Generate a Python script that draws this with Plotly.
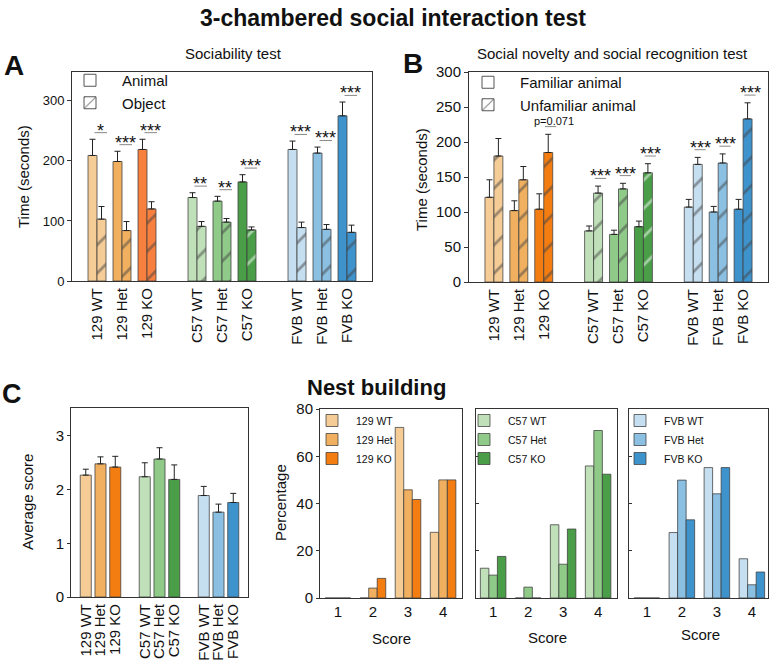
import plotly.graph_objects as go

W, H = 772, 662
FONT = "Arial, Liberation Sans, Helvetica, sans-serif"

# ---------------- data ----------------
genotypes = ["129 WT", "129 Het", "129 KO", "C57 WT", "C57 Het", "C57 KO", "FVB WT", "FVB Het", "FVB KO"]
strain_of = [0, 0, 0, 1, 1, 1, 2, 2, 2]
member_of = [0, 1, 2, 0, 1, 2, 0, 1, 2]

colors_A = ["#f5cc96", "#f0b060", "#f8803f", "#bfe0b8", "#8fca88", "#4b9e48", "#c6dff0", "#8bc0e2", "#3f93cc"]
colors = ["#f5cc96", "#f0b060", "#f47d12", "#bfe0b8", "#8fca88", "#4b9e48", "#c6dff0", "#8bc0e2", "#3f93cc"]

# A: Sociability test (seconds)
animal_mean = [209, 199, 219, 139, 133, 165, 219, 213, 275]
animal_sem = [27, 17, 17, 8, 8, 12, 14, 10, 23]
object_mean = [103, 84, 120, 91, 98, 85, 89, 86, 81]
object_sem = [21, 15, 12, 8, 6, 5, 9, 8, 12]
sig_A = ["*", "***", "***", "**", "**", "***", "***", "***", "***"]

# B: Social novelty test (seconds)
familiar_mean = [121, 102, 104, 73, 68, 79, 107, 100, 104]
familiar_sem = [25, 14, 22, 7, 6, 8, 11, 8, 14]
unfamiliar_mean = [180, 146, 185, 127, 133, 156, 168, 170, 233]
unfamiliar_sem = [25, 19, 26, 10, 8, 13, 10, 13, 23]
sig_B = ["", "", "p=0.071", "***", "***", "***", "***", "***", "***"]

# C: Nest building
nest_mean = [2.27, 2.48, 2.42, 2.24, 2.57, 2.19, 1.89, 1.58, 1.76]
nest_sem = [0.11, 0.13, 0.20, 0.26, 0.21, 0.27, 0.17, 0.15, 0.17]

scores = [1, 2, 3, 4]
pct_129_wt = [0, 0, 72.2, 27.8]
pct_129_het = [0, 4.2, 45.8, 50.0]
pct_129_ko = [0, 8.3, 41.7, 50.0]
pct_c57_wt = [12.6, 0, 31.0, 55.9]
pct_c57_het = [9.7, 4.6, 14.3, 70.9]
pct_c57_ko = [17.6, 0, 29.2, 52.4]
pct_fvb_wt = [0, 27.7, 55.2, 16.6]
pct_fvb_het = [0, 49.9, 44.1, 5.6]
pct_fvb_ko = [0, 33.1, 55.2, 11.0]

# ---------------- helpers ----------------
pos = [s * 4 + m + 1 for s, m in zip(strain_of, member_of)]


def px(x):
    return x / W


def py(y):
    return 1 - y / H


EDGE = "rgba(60,60,60,0.75)"
AXC = "#333333"
BW = 0.36

fig = go.Figure()


def err(arr):
    return dict(type="data", array=arr, arrayminus=[0] * len(arr), symmetric=False,
                color="#222222", thickness=1, width=3)


hatch = dict(shape="/", fgcolor="#111111", size=20, solidity=0.14, fillmode="overlay")

# ----- Panel A -----
fig.add_trace(go.Bar(x=pos, y=animal_mean, offset=-BW, width=BW, error_y=err(animal_sem),
                     marker=dict(color=colors_A, line=dict(color=EDGE, width=1)),
                     showlegend=False, xaxis="x", yaxis="y"))
fig.add_trace(go.Bar(x=pos, y=object_mean, offset=0, width=BW, error_y=err(object_sem),
                     marker=dict(color=colors_A, line=dict(color=EDGE, width=1), pattern=hatch),
                     showlegend=False, xaxis="x", yaxis="y"))
fig.add_trace(go.Bar(x=[None], y=[None], name="Animal", offset=0, width=BW,
                     marker=dict(color="white", line=dict(color="#555", width=1)),
                     legend="legend", xaxis="x", yaxis="y"))
fig.add_trace(go.Bar(x=[None], y=[None], name="Object", offset=0, width=BW,
                     marker=dict(color="white", line=dict(color="#555", width=1), pattern=hatch),
                     legend="legend", xaxis="x", yaxis="y"))

# ----- Panel B -----
fig.add_trace(go.Bar(x=pos, y=familiar_mean, offset=-BW, width=BW, error_y=err(familiar_sem),
                     marker=dict(color=colors, line=dict(color=EDGE, width=1)),
                     showlegend=False, xaxis="x2", yaxis="y2"))
fig.add_trace(go.Bar(x=pos, y=unfamiliar_mean, offset=0, width=BW, error_y=err(unfamiliar_sem),
                     marker=dict(color=colors, line=dict(color=EDGE, width=1), pattern=hatch),
                     showlegend=False, xaxis="x2", yaxis="y2"))
fig.add_trace(go.Bar(x=[None], y=[None], name="Familiar animal", offset=0, width=BW,
                     marker=dict(color="white", line=dict(color="#555", width=1)),
                     legend="legend2", xaxis="x2", yaxis="y2"))
fig.add_trace(go.Bar(x=[None], y=[None], name="Unfamiliar animal", offset=0, width=BW,
                     marker=dict(color="white", line=dict(color="#555", width=1), pattern=hatch),
                     legend="legend2", xaxis="x2", yaxis="y2"))

# ----- Panel C left -----
fig.add_trace(go.Bar(x=pos, y=nest_mean, width=0.75, error_y=err(nest_sem),
                     marker=dict(color=colors, line=dict(color=EDGE, width=1)),
                     showlegend=False, xaxis="x3", yaxis="y3"))

# ----- Panel C distributions -----
dist_sets = [
    (["129 WT", "129 Het", "129 KO"], [pct_129_wt, pct_129_het, pct_129_ko], colors[0:3], "x4", "y4", "legend3"),
    (["C57 WT", "C57 Het", "C57 KO"], [pct_c57_wt, pct_c57_het, pct_c57_ko], colors[3:6], "x5", "y5", "legend4"),
    (["FVB WT", "FVB Het", "FVB KO"], [pct_fvb_wt, pct_fvb_het, pct_fvb_ko], colors[6:9], "x6", "y6", "legend5"),
]
for names, vals, cols, xa, ya, lg in dist_sets:
    for n, v, c in zip(names, vals, cols):
        fig.add_trace(go.Bar(x=scores, y=v, name=n,
                             marker=dict(color=c, line=dict(color=EDGE, width=1)),
                             legend=lg, xaxis=xa, yaxis=ya))

# ---------------- significance marks ----------------
shapes = []
annotations = []


def add_sig(labels, m1, s1, m2, s2, xa, ya, lx0, lx1, tx):
    for i, lab in enumerate(labels):
        if not lab:
            continue
        top = max(m1[i] + s1[i], m2[i] + s2[i])
        yl = top + 11
        shapes.append(dict(type="line", xref=xa, yref=ya, x0=pos[i] + lx0, x1=pos[i] + lx1,
                           y0=yl, y1=yl, line=dict(color="#888888", width=1)))
        small = lab.startswith("p")
        annotations.append(dict(text=lab, xref=xa, yref=ya, x=pos[i] + tx + (0.15 if small else 0), y=yl,
                                yanchor="bottom", xanchor="center", showarrow=False,
                                yshift=-2 if small else -10,
                                font=dict(size=11 if small else 18, color="#111", family=FONT)))


add_sig(sig_A, animal_mean, animal_sem, object_mean, object_sem, "x", "y", -0.1, 0.4, 0.12)
add_sig(sig_B, familiar_mean, familiar_sem, unfamiliar_mean, unfamiliar_sem, "x2", "y2", 0.05, 0.5, 0.28)


def txt(t, x, y, size, bold=False, angle=0, xanchor="center"):
    annotations.append(dict(text=("<b>%s</b>" % t) if bold else t, xref="paper", yref="paper",
                            x=px(x), y=py(y), xanchor=xanchor, yanchor="middle", showarrow=False,
                            textangle=angle, font=dict(size=size, color="#111", family=FONT)))


txt("3-chambered social interaction test", 393, 18, 23, bold=True)
txt("Nest building", 376, 387, 22, bold=True)
txt("A", 14, 65, 28, bold=True)
txt("B", 413, 63, 28, bold=True)
txt("C", 12, 394, 27, bold=True)
txt("Sociability test", 233, 53, 15)
txt("Social novelty and social recognition test", 612, 53, 15)
txt("Time (seconds)", 23, 177, 15, angle=-90)
txt("Time (seconds)", 422, 180, 15, angle=-90)
txt("Average score", 27, 502, 15, angle=-90)
txt("Percentage", 281, 503, 15, angle=-90)
txt("Score", 391, 638, 15)
txt("Score", 547, 637, 15)
txt("Score", 700, 634, 15)

# ---------------- axes ----------------
def box(domain, **kw):
    d = dict(domain=domain, showline=True, linecolor=AXC, linewidth=1, mirror=True,
             showgrid=False, zeroline=False, fixedrange=True,
             tickfont=dict(size=15, color="#111", family=FONT))
    d.update(kw)
    return d


layout = dict(
    width=W, height=H, margin=dict(l=0, r=0, t=0, b=0, autoexpand=False),
    paper_bgcolor="white", plot_bgcolor="white",
    barmode="group", bargap=0.27, bargroupgap=0,
    font=dict(family=FONT, color="#111"),
    shapes=shapes, annotations=annotations,
)

xlab = dict(tickmode="array", tickvals=pos, ticktext=genotypes, tickangle=-90, ticks="", range=[0, 12])

layout["xaxis"] = box([px(72), px(372)], anchor="y", **xlab)
layout["yaxis"] = box([py(281), py(72)], anchor="x", range=[0, 348], tickvals=[0, 100, 200, 300],
                      ticks="outside", ticklen=4, tickcolor=AXC, tickfont=dict(size=13, color="#111", family=FONT))
layout["xaxis2"] = box([px(469), px(768)], anchor="y2", **xlab)
layout["yaxis2"] = box([py(282), py(72)], anchor="x2", range=[0, 300], tickvals=[0, 50, 100, 150, 200, 250, 300],
                       ticks="outside", ticklen=4, tickcolor=AXC)
layout["xaxis3"] = box([px(71), px(248)], anchor="y3", **xlab)
layout["yaxis3"] = box([py(597), py(408)], anchor="x3", range=[0, 3.52], tickvals=[0, 1, 2, 3],
                       ticks="outside", ticklen=3, tickcolor=AXC)

score_ax = dict(tickmode="array", tickvals=scores, ticks="")
layout["xaxis4"] = box([px(320), px(462)], anchor="y4", range=[0.49, 4.54], **score_ax)
layout["yaxis4"] = box([py(598), py(409)], anchor="x4", range=[0, 80], tickvals=[0, 20, 40, 60, 80],
                       ticks="outside", ticklen=3, tickcolor=AXC)
layout["xaxis5"] = box([px(476), px(617)], anchor="y5", range=[0.51, 4.54], **score_ax)
layout["yaxis5"] = box([py(598), py(409)], anchor="x5", range=[0, 80], tickvals=[20, 40, 60],
                       ticks="inside", ticklen=3, tickcolor=AXC, showticklabels=False)
layout["xaxis6"] = box([px(629), px(768)], anchor="y6", range=[0.49, 4.46], **score_ax)
layout["yaxis6"] = box([py(598), py(409)], anchor="x6", range=[0, 80], tickvals=[20, 40, 60],
                       ticks="inside", ticklen=3, tickcolor=AXC, showticklabels=False)

leg_common = dict(xanchor="left", yanchor="top", bgcolor="rgba(0,0,0,0)", borderwidth=0,
                  tracegroupgap=0, orientation="v")
layout["legend"] = dict(x=px(58), y=py(64), itemwidth=54,
                        font=dict(size=15, family=FONT, color="#111"), **leg_common)
layout["legend2"] = dict(x=px(456), y=py(66), itemwidth=54,
                         font=dict(size=15, family=FONT, color="#111"), **leg_common)
layout["legend3"] = dict(x=px(308), y=py(406), itemwidth=38,
                         font=dict(size=10.5, family=FONT, color="#111"), **leg_common)
layout["legend4"] = dict(x=px(460), y=py(406), itemwidth=38,
                         font=dict(size=10.5, family=FONT, color="#111"), **leg_common)
layout["legend5"] = dict(x=px(616), y=py(406), itemwidth=38,
                         font=dict(size=10.5, family=FONT, color="#111"), **leg_common)

fig.update_layout(**layout)
fig.write_html("out.html",
               config={"displayModeBar": False},
               post_script="document.body.style.margin='0px';"
                           "document.documentElement.style.overflow='hidden';")
